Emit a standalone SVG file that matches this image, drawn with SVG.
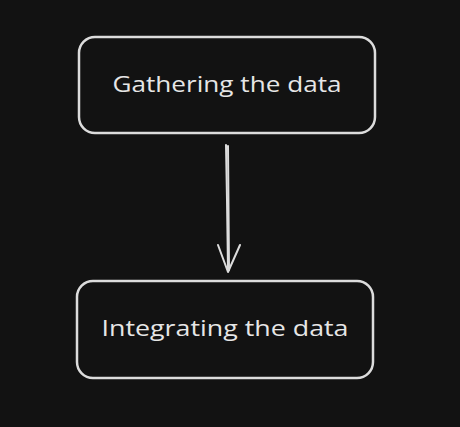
<svg xmlns="http://www.w3.org/2000/svg" width="460" height="427" viewBox="0 0 460 427">
<style>
.box{fill:#121212;stroke:#dcdcdc;stroke-width:2.5;}
.lbl{fill:#e6e6e6;font-family:"Open Sans","DejaVu Sans",sans-serif;font-size:21px;text-anchor:middle;}
.conn{fill:none;stroke:#dcdcdc;stroke-width:2;stroke-linecap:round;stroke-linejoin:round;}
</style>
<rect width="460" height="427" fill="#121212"/>
<g id="node-gathering">
<rect class="box" x="79" y="37" width="296" height="96" rx="16"/>
<text class="lbl" x="227" y="92" textLength="229" lengthAdjust="spacingAndGlyphs">Gathering the data</text>
</g>
<g id="node-integrating">
<rect class="box" x="77" y="281" width="296" height="97" rx="16"/>
<text class="lbl" x="225" y="336" textLength="247" lengthAdjust="spacingAndGlyphs">Integrating the data</text>
</g>
<g id="connectors">
<path class="conn" d="M226 145 L227 200 L228 270"/>
<path class="conn" d="M228 146 L229 270"/>
<path class="conn" d="M218 245 L228 272 L240 245"/>
</g>
</svg>
